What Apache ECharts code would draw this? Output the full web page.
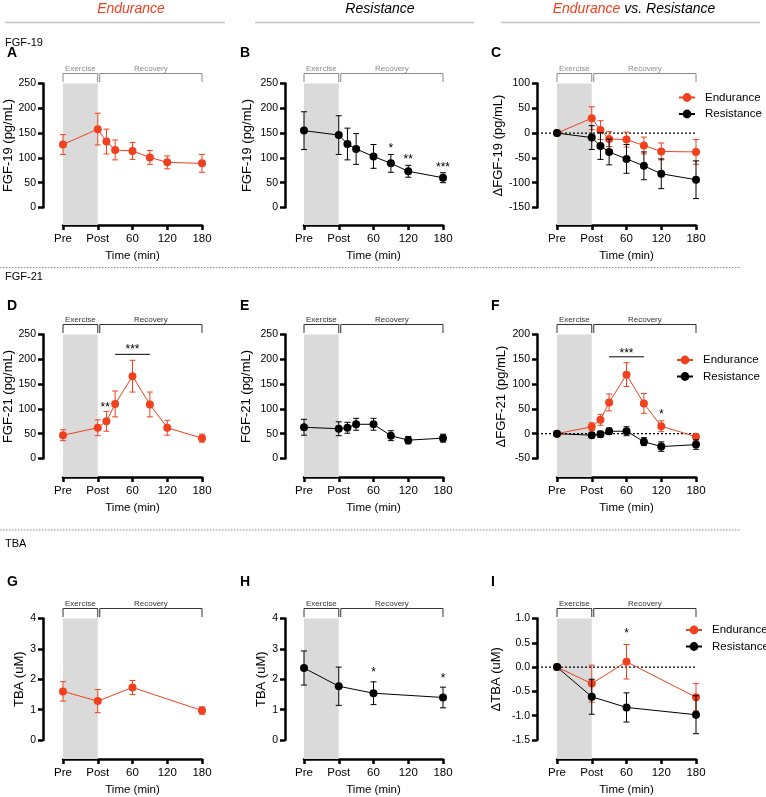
<!DOCTYPE html>
<html>
<head>
<meta charset="utf-8">
<script src="https://cdn.jsdelivr.net/npm/echarts@6/dist/echarts.min.js"></script>
<style>
html, body { margin: 0; padding: 0; background: #fff; }
#chart { width: 766px; height: 797px; }
</style>
</head>
<body>
<div id="chart"></div>
<script>
var RED = '#f1401e';
var FONT = '"Liberation Sans", Arial, sans-serif';

// time axis (Pre = -60, Post = 0)
var xTicks = [-60, 0, 60, 120, 180];
var xTickLabels = ['Pre', 'Post', '60', '120', '180'];
var timeFgf = [-60, 0, 15, 30, 60, 90, 120, 180];
var timeTba = [-60, 0, 60, 180];

var phaseStart = [-60, 0];
var phaseEnd = [0, 180];
var phaseNames = ['Exercise', 'Recovery'];

// FGF-19
var fgf19End = [127, 158, 133, 116, 114, 101, 91, 89];
var fgf19EndSem = [20, 32, 25, 20, 17, 14, 13, 18];
var fgf19Res = [155, 146, 128, 118, 103, 89, 73, 60];
var fgf19ResSem = [38, 39, 32, 31, 24, 18, 12, 10];
var dFgf19End = [0, 30, 6, -12, -13, -25, -37, -38];
var dFgf19EndSem = [0, 23, 19, 15, 15, 17, 17, 25];
var dFgf19Res = [0, -9, -26, -38, -52, -66, -82, -94];
var dFgf19ResSem = [0, 24, 27, 26, 29, 28, 30, 38];

// FGF-21
var fgf21End = [47, 62, 75, 110, 166, 109, 62, 41];
var fgf21EndSem = [11, 16, 20, 26, 32, 25, 15, 8];
var fgf21Res = [63, 60, 62, 69, 69, 46, 37, 41];
var fgf21ResSem = [16, 14, 11, 12, 12, 10, 7.5, 8];
var dFgf21End = [0, 14, 28, 63, 119, 61, 15, -6];
var dFgf21EndSem = [0, 8, 11, 17, 24, 20, 11, 5];
var dFgf21Res = [0, -3, -1, 5, 5, -16, -26, -22];
var dFgf21ResSem = [0, 4, 6, 6.5, 9, 8, 9.5, 9.5];

// TBA
var tbaEnd = [1.6, 1.28, 1.73, 0.97];
var tbaEndSem = [0.32, 0.38, 0.23, 0.12];
var tbaRes = [2.37, 1.77, 1.54, 1.4];
var tbaResSem = [0.56, 0.63, 0.375, 0.34];
var dTbaEnd = [0, -0.34, 0.11, -0.62];
var dTbaEndSem = [0, 0.38, 0.355, 0.28];
var dTbaRes = [0, -0.61, -0.83, -0.98];
var dTbaResSem = [0, 0.36, 0.30, 0.39];

// significance marks
var starPosB = [[90, 123], [120, 101], [180, 85]];
var starTextB = ['*', '**', '***'];
var starPosD = [[13, 108], [60, 224]];
var starTextD = ['**', '***'];
var barD = [[30, 210, 90]];
var starPosF = [[60, 167], [120, 44]];
var starTextF = ['***', '*'];
var barF = [[30, 155, 90]];
var starPosH = [[60, 2.31], [180, 2.11]];
var starTextH = ['*', '*'];
var starPosI = [[60, 0.74]];
var starTextI = ['*'];

// layout
var colLeft = [63, 304, 557];
var colYOff = [20, 19, 20];
var rowTop = [83.5, 334.5, 618.5];
var rowH = [124, 124, 123.5];
var rowXOff = [17.5, 18.5, 19];
var gridW = 139;
var bracketColor = ['#8a8a8a', '#333', '#333'];

var seriesColor = { Endurance: RED, Resistance: '#000' };

var panels = [
    {col: 0, row: 0, yName: 'FGF-19 (pg/mL)', yMin: 0, yMax: 250, yStep: 50, nameGap: 27,
     lines: [{name: 'Endurance', t: timeFgf, v: fgf19End, e: fgf19EndSem}]},
    {col: 1, row: 0, yName: 'FGF-19 (pg/mL)', yMin: 0, yMax: 250, yStep: 50, nameGap: 31,
     lines: [{name: 'Resistance', t: timeFgf, v: fgf19Res, e: fgf19ResSem}],
     stars: starPosB, starText: starTextB},
    {col: 2, row: 0, yName: '\u0394FGF-19 (pg/mL)', yMin: -150, yMax: 100, yStep: 50, nameGap: 29, zero: true,
     legend: [678, 91.5],
     lines: [{name: 'Endurance', t: timeFgf, v: dFgf19End, e: dFgf19EndSem},
             {name: 'Resistance', t: timeFgf, v: dFgf19Res, e: dFgf19ResSem}]},
    {col: 0, row: 1, yName: 'FGF-21 (pg/mL)', yMin: 0, yMax: 250, yStep: 50, nameGap: 27,
     lines: [{name: 'Endurance', t: timeFgf, v: fgf21End, e: fgf21EndSem}],
     stars: starPosD, starText: starTextD, bars: barD},
    {col: 1, row: 1, yName: 'FGF-21 (pg/mL)', yMin: 0, yMax: 250, yStep: 50, nameGap: 32,
     lines: [{name: 'Resistance', t: timeFgf, v: fgf21Res, e: fgf21ResSem}]},
    {col: 2, row: 1, yName: '\u0394FGF-21 (pg/mL)', yMin: -50, yMax: 200, yStep: 50, nameGap: 29, zero: true,
     legend: [676, 354],
     lines: [{name: 'Endurance', t: timeFgf, v: dFgf21End, e: dFgf21EndSem},
             {name: 'Resistance', t: timeFgf, v: dFgf21Res, e: dFgf21ResSem}],
     stars: starPosF, starText: starTextF, bars: barF},
    {col: 0, row: 2, yName: 'TBA (uM)', yMin: 0, yMax: 4, yStep: 1, nameGap: 15,
     lines: [{name: 'Endurance', t: timeTba, v: tbaEnd, e: tbaEndSem}]},
    {col: 1, row: 2, yName: 'TBA (uM)', yMin: 0, yMax: 4, yStep: 1, nameGap: 15,
     lines: [{name: 'Resistance', t: timeTba, v: tbaRes, e: tbaResSem}],
     stars: starPosH, starText: starTextH},
    {col: 2, row: 2, yName: '\u0394TBA (uM)', yMin: -1.5, yMax: 1, yStep: 0.5, nameGap: 34, zero: true, dec: 1,
     legend: [685, 624],
     lines: [{name: 'Endurance', t: timeTba, v: dTbaEnd, e: dTbaEndSem},
             {name: 'Resistance', t: timeTba, v: dTbaRes, e: dTbaResSem}],
     stars: starPosI, starText: starTextI}
];

function shadeRender(xOff) {
    return function (params, api) {
        var cs = params.coordSys;
        var a = api.coord([api.value(0), 0])[0];
        var b = api.coord([api.value(1), 0])[0];
        return {type: 'rect', shape: {x: a, y: cs.y, width: b - a, height: cs.height + xOff},
                style: {fill: '#dadada'}};
    };
}

function bracketRender(color) {
    return function (params, api) {
        var cs = params.coordSys;
        var i = params.dataIndex;
        var a = api.coord([api.value(0), 0])[0] + (i > 0 ? 2 : 0);
        var b = api.coord([api.value(1), 0])[0];
        var y = cs.y - 10, yt = cs.y - 1.5;
        return {type: 'group', children: [
            {type: 'polyline', shape: {points: [[a, yt], [a, y], [b, y], [b, yt]]},
             style: {stroke: color, fill: null, lineWidth: 1}},
            {type: 'text', style: {x: (a + b) / 2, y: y - 0.5, text: phaseNames[i], fill: color,
             font: '8px ' + FONT, align: 'center', verticalAlign: 'bottom'}}
        ]};
    };
}

function errRender(color) {
    return function (params, api) {
        var x = api.value(0), y = api.value(1), e = api.value(2);
        if (!e) return null;
        var hi = api.coord([x, y + e]), lo = api.coord([x, y - e]);
        var st = {stroke: color, lineWidth: 1};
        return {type: 'group', children: [
            {type: 'line', shape: {x1: hi[0], y1: hi[1], x2: lo[0], y2: lo[1]}, style: st},
            {type: 'line', shape: {x1: hi[0] - 3, y1: hi[1], x2: hi[0] + 3, y2: hi[1]}, style: st},
            {type: 'line', shape: {x1: lo[0] - 3, y1: lo[1], x2: lo[0] + 3, y2: lo[1]}, style: st}
        ]};
    };
}

function zeroRender(yOff) {
    return function (params, api) {
        var cs = params.coordSys;
        var p = api.coord([api.value(0), api.value(1)]);
        return {type: 'line', shape: {x1: cs.x - yOff, y1: p[1], x2: p[0], y2: p[1]},
                style: {stroke: '#000', lineWidth: 1.3, lineDash: [2, 2]}};
    };
}

function starRender(texts) {
    return function (params, api) {
        var p = api.coord([api.value(0), api.value(1)]);
        return {type: 'text', style: {x: p[0], y: p[1] + 2.6, text: texts[params.dataIndex],
                font: '12px ' + FONT, fill: '#000', align: 'center', verticalAlign: 'middle'}};
    };
}

function barRender(params, api) {
    var a = api.coord([api.value(0), api.value(1)]);
    var b = api.coord([api.value(2), api.value(1)]);
    return {type: 'line', shape: {x1: a[0], y1: a[1], x2: b[0], y2: b[1]},
            style: {stroke: '#000', lineWidth: 1}};
}

var grids = [], xAxes = [], yAxes = [], series = [], legends = [];

panels.forEach(function (p, k) {
    var xOff = rowXOff[p.row], yOff = colYOff[p.col];
    grids.push({left: colLeft[p.col], top: rowTop[p.row], width: gridW, height: rowH[p.row]});
    xAxes.push({
        gridIndex: k, type: 'value', min: -60, max: 180, interval: 60, offset: xOff,
        name: 'Time (min)', nameLocation: 'middle', nameGap: 25,
        nameTextStyle: {fontSize: 11.5, color: '#000', fontFamily: FONT},
        axisLine: {onZero: false, lineStyle: {color: '#000', width: 2.5}},
        axisTick: {length: 5, lineStyle: {color: '#000', width: 2.5}},
        axisLabel: {fontSize: 11.5, color: '#000', fontFamily: FONT, margin: 8,
            formatter: function (v) { return xTickLabels[xTicks.indexOf(v)]; }},
        splitLine: {show: false}
    });
    yAxes.push({
        gridIndex: k, type: 'value', min: p.yMin, max: p.yMax, interval: p.yStep, offset: yOff,
        name: p.yName, nameLocation: 'middle', nameGap: p.nameGap,
        nameTextStyle: {fontSize: 13, color: '#000', fontFamily: FONT},
        axisLine: {onZero: false, lineStyle: {color: '#000', width: 2.5}},
        axisTick: {length: 5, lineStyle: {color: '#000', width: 2.5}},
        axisLabel: {fontSize: 10.5, color: '#000', fontFamily: FONT, margin: 7,
            formatter: function (v) { return p.dec ? v.toFixed(p.dec) : String(v); }},
        splitLine: {show: false}
    });
    var ax = {xAxisIndex: k, yAxisIndex: k, silent: true};
    series.push(Object.assign({type: 'custom', z: 1, data: [[phaseStart[0], phaseEnd[0]]],
        renderItem: shadeRender(xOff)}, ax));
    series.push(Object.assign({type: 'custom', z: 2,
        data: phaseStart.map(function (s, i) { return [s, phaseEnd[i]]; }),
        renderItem: bracketRender(bracketColor[p.row])}, ax));
    if (p.zero) {
        series.push(Object.assign({type: 'custom', z: 2, data: [[180, 0]], renderItem: zeroRender(yOff)}, ax));
    }
    p.lines.forEach(function (s, j) {
        var c = seriesColor[s.name];
        series.push(Object.assign({type: 'custom', z: 3 + j * 2,
            data: s.t.map(function (t, i) { return [t, s.v[i], s.e[i]]; }),
            renderItem: errRender(c)}, ax));
        series.push(Object.assign({type: 'line', name: s.name, z: 4 + j * 2,
            data: s.t.map(function (t, i) { return [t, s.v[i]]; }),
            symbol: 'circle', symbolSize: 8, showSymbol: true, color: c,
            lineStyle: {width: 1, color: c}, itemStyle: {color: c}}, ax));
    });
    if (p.stars) {
        series.push(Object.assign({type: 'custom', z: 8, data: p.stars, renderItem: starRender(p.starText)}, ax));
    }
    if (p.bars) {
        series.push(Object.assign({type: 'custom', z: 8, data: p.bars, renderItem: barRender}, ax));
    }
    if (p.legend) {
        legends.push({left: p.legend[0], top: p.legend[1], orient: 'vertical', itemWidth: 16, itemHeight: 11,
            itemGap: 4.5, padding: 0, selectedMode: false, data: ['Endurance', 'Resistance'],
            textStyle: {fontSize: 11.5, color: '#000', fontFamily: FONT, padding: [0, 0, 0, 5]}});
    }
});

var graphics = [
    {type: 'text', x: 131, y: 9, style: {text: 'Endurance', font: 'italic 14px ' + FONT, fill: RED, align: 'center', verticalAlign: 'middle'}},
    {type: 'text', x: 380, y: 9, style: {text: 'Resistance', font: 'italic 14px ' + FONT, fill: '#000', align: 'center', verticalAlign: 'middle'}},
    {type: 'text', x: 634, y: 9, style: {text: '{r|Endurance}{k| vs. Resistance}', align: 'center', verticalAlign: 'middle',
        rich: {r: {font: 'italic 14px ' + FONT, fill: RED}, k: {font: 'italic 14px ' + FONT, fill: '#000'}}}},
    {type: 'line', shape: {x1: 5, y1: 22.5, x2: 225, y2: 22.5}, style: {stroke: '#c4c4c4', lineWidth: 1.5}},
    {type: 'line', shape: {x1: 255, y1: 22.5, x2: 474, y2: 22.5}, style: {stroke: '#c4c4c4', lineWidth: 1.5}},
    {type: 'line', shape: {x1: 501, y1: 22.5, x2: 760, y2: 22.5}, style: {stroke: '#c4c4c4', lineWidth: 1.5}},
    {type: 'text', x: 5, y: 42.5, style: {text: 'FGF-19', font: '11px ' + FONT, fill: '#000', verticalAlign: 'middle'}},
    {type: 'text', x: 5, y: 277, style: {text: 'FGF-21', font: '11px ' + FONT, fill: '#000', verticalAlign: 'middle'}},
    {type: 'text', x: 5, y: 544, style: {text: 'TBA', font: '11px ' + FONT, fill: '#000', verticalAlign: 'middle'}},
    {type: 'line', shape: {x1: 0, y1: 267.5, x2: 740, y2: 267.5}, style: {stroke: '#888', lineWidth: 1, lineDash: [1.5, 1.5]}},
    {type: 'line', shape: {x1: 0, y1: 530, x2: 740, y2: 530}, style: {stroke: '#888', lineWidth: 1, lineDash: [1.5, 1.5]}}
];

var letters = ['A', 'B', 'C', 'D', 'E', 'F', 'G', 'H', 'I'];
var letterX = [7, 240, 491];
var letterY = [53, 306, 582];
letters.forEach(function (l, i) {
    graphics.push({type: 'text', x: letterX[i % 3], y: letterY[Math.floor(i / 3)],
        style: {text: l, font: 'bold 14px ' + FONT, fill: '#000', verticalAlign: 'middle'}});
});

var chart = echarts.init(document.getElementById('chart'), null, {renderer: 'canvas'});
chart.setOption({
    backgroundColor: '#fff',
    animation: false,
    textStyle: {fontFamily: FONT},
    grid: grids,
    xAxis: xAxes,
    yAxis: yAxes,
    legend: legends,
    graphic: graphics,
    series: series
});
</script>
</body>
</html>
